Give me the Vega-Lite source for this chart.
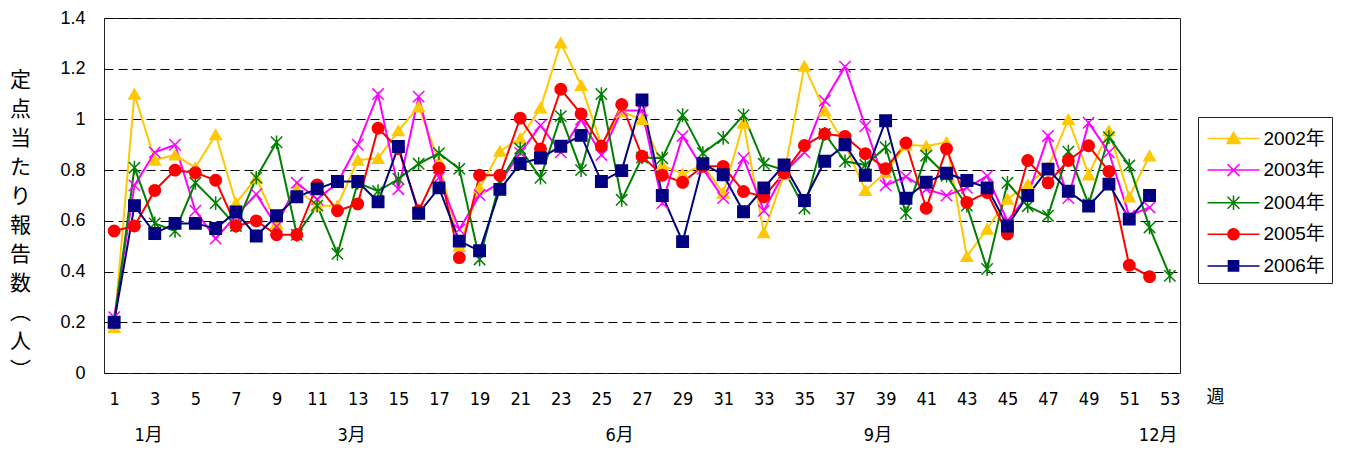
{
  "$schema": "https://vega.github.io/schema/vega-lite/v6.json",
  "width": 1076,
  "height": 355,
  "autosize": {"type": "none"},
  "padding": {"left": 104, "top": 18, "right": 167, "bottom": 83},
  "background": "white",
  "config": {
    "view": {"stroke": "#222", "strokeWidth": 1},
    "font": "Liberation Sans"
  },
  "data": {
    "values": [
      {"week": 1, "2002年": 0.18, "2003年": 0.22, "2004年": 0.2, "2005年": 0.56, "2006年": 0.2},
      {"week": 2, "2002年": 1.1, "2003年": 0.74, "2004年": 0.81, "2005年": 0.58, "2006年": 0.66},
      {"week": 3, "2002年": 0.84, "2003年": 0.87, "2004年": 0.59, "2005年": 0.72, "2006年": 0.55},
      {"week": 4, "2002年": 0.86, "2003年": 0.9, "2004年": 0.56, "2005年": 0.8, "2006年": 0.59},
      {"week": 5, "2002年": 0.81, "2003年": 0.64, "2004年": 0.75, "2005年": 0.79, "2006年": 0.59},
      {"week": 6, "2002年": 0.94, "2003年": 0.53, "2004年": 0.67, "2005年": 0.76, "2006年": 0.57},
      {"week": 7, "2002年": 0.67, "2003年": 0.62, "2004年": 0.58, "2005年": 0.58, "2006年": 0.635},
      {"week": 8, "2002年": 0.77, "2003年": 0.705, "2004年": 0.77, "2005年": 0.6, "2006年": 0.54},
      {"week": 9, "2002年": 0.59, "2003年": 0.578, "2004年": 0.91, "2005年": 0.545, "2006年": 0.62},
      {"week": 10, "2002年": 0.726, "2003年": 0.75, "2004年": 0.545, "2005年": 0.545, "2006年": 0.695},
      {"week": 11, "2002年": 0.66, "2003年": 0.685, "2004年": 0.66, "2005年": 0.742, "2006年": 0.726},
      {"week": 12, "2002年": 0.66, "2003年": 0.75, "2004年": 0.47, "2005年": 0.64, "2006年": 0.755},
      {"week": 13, "2002年": 0.84, "2003年": 0.9, "2004年": 0.75, "2005年": 0.667, "2006年": 0.755},
      {"week": 14, "2002年": 0.847, "2003年": 1.1, "2004年": 0.717, "2005年": 0.965, "2006年": 0.675},
      {"week": 15, "2002年": 0.956, "2003年": 0.725, "2004年": 0.765, "2005年": 0.885, "2006年": 0.893},
      {"week": 16, "2002年": 1.05, "2003年": 1.09, "2004年": 0.825, "2005年": 0.64, "2006年": 0.63},
      {"week": 17, "2002年": 0.834, "2003年": 0.77, "2004年": 0.867, "2005年": 0.808, "2006年": 0.73},
      {"week": 18, "2002年": 0.5, "2003年": 0.566, "2004年": 0.805, "2005年": 0.455, "2006年": 0.52},
      {"week": 19, "2002年": 0.73, "2003年": 0.702, "2004年": 0.448, "2005年": 0.78, "2006年": 0.482},
      {"week": 20, "2002年": 0.875, "2003年": 0.75, "2004年": 0.755, "2005年": 0.78, "2006年": 0.724},
      {"week": 21, "2002年": 0.925, "2003年": 0.868, "2004年": 0.885, "2005年": 1.005, "2006年": 0.826},
      {"week": 22, "2002年": 1.046, "2003年": 0.976, "2004年": 0.77, "2005年": 0.884, "2006年": 0.848},
      {"week": 23, "2002年": 1.302, "2003年": 0.87, "2004年": 1.013, "2005年": 1.119, "2006年": 0.894},
      {"week": 24, "2002年": 1.135, "2003年": 1.0, "2004年": 0.8, "2005年": 1.022, "2006年": 0.937},
      {"week": 25, "2002年": 0.9, "2003年": 0.86, "2004年": 1.1, "2005年": 0.894, "2006年": 0.755},
      {"week": 26, "2002年": 1.03, "2003年": 1.035, "2004年": 0.683, "2005年": 1.059, "2006年": 0.798},
      {"week": 27, "2002年": 1.0, "2003年": 1.035, "2004年": 0.85, "2005年": 0.855, "2006年": 1.077},
      {"week": 28, "2002年": 0.82, "2003年": 0.67, "2004年": 0.847, "2005年": 0.78, "2006年": 0.7},
      {"week": 29, "2002年": 0.785, "2003年": 0.935, "2004年": 1.017, "2005年": 0.752, "2006年": 0.518},
      {"week": 30, "2002年": 0.82, "2003年": 0.805, "2004年": 0.867, "2005年": 0.815, "2006年": 0.825},
      {"week": 31, "2002年": 0.71, "2003年": 0.69, "2004年": 0.927, "2005年": 0.815, "2006年": 0.782},
      {"week": 32, "2002年": 0.986, "2003年": 0.847, "2004年": 1.017, "2005年": 0.716, "2006年": 0.636},
      {"week": 33, "2002年": 0.554, "2003年": 0.64, "2004年": 0.825, "2005年": 0.695, "2006年": 0.73},
      {"week": 34, "2002年": 0.785, "2003年": 0.79, "2004年": 0.8, "2005年": 0.789, "2006年": 0.82},
      {"week": 35, "2002年": 1.21, "2003年": 0.87, "2004年": 0.65, "2005年": 0.897, "2006年": 0.68},
      {"week": 36, "2002年": 1.034, "2003年": 1.074, "2004年": 0.943, "2005年": 0.943, "2006年": 0.835},
      {"week": 37, "2002年": 0.9, "2003年": 1.208, "2004年": 0.835, "2005年": 0.933, "2006年": 0.9},
      {"week": 38, "2002年": 0.72, "2003年": 0.973, "2004年": 0.82, "2005年": 0.865, "2006年": 0.78},
      {"week": 39, "2002年": 0.79, "2003年": 0.74, "2004年": 0.89, "2005年": 0.806, "2006年": 0.995},
      {"week": 40, "2002年": 0.9, "2003年": 0.774, "2004年": 0.63, "2005年": 0.907, "2006年": 0.689},
      {"week": 41, "2002年": 0.895, "2003年": 0.725, "2004年": 0.857, "2005年": 0.65, "2006年": 0.752},
      {"week": 42, "2002年": 0.91, "2003年": 0.7, "2004年": 0.778, "2005年": 0.884, "2006年": 0.788},
      {"week": 43, "2002年": 0.46, "2003年": 0.73, "2004年": 0.66, "2005年": 0.673, "2006年": 0.759},
      {"week": 44, "2002年": 0.568, "2003年": 0.777, "2004年": 0.41, "2005年": 0.712, "2006年": 0.73},
      {"week": 45, "2002年": 0.686, "2003年": 0.6, "2004年": 0.75, "2005年": 0.548, "2006年": 0.58},
      {"week": 46, "2002年": 0.743, "2003年": 0.7, "2004年": 0.658, "2005年": 0.838, "2006年": 0.7},
      {"week": 47, "2002年": 0.81, "2003年": 0.935, "2004年": 0.62, "2005年": 0.75, "2006年": 0.804},
      {"week": 48, "2002年": 1.0, "2003年": 0.69, "2004年": 0.873, "2005年": 0.838, "2006年": 0.717},
      {"week": 49, "2002年": 0.782, "2003年": 0.987, "2004年": 0.665, "2005年": 0.896, "2006年": 0.658},
      {"week": 50, "2002年": 0.956, "2003年": 0.87, "2004年": 0.93, "2005年": 0.795, "2006年": 0.745},
      {"week": 51, "2002年": 0.695, "2003年": 0.62, "2004年": 0.818, "2005年": 0.425, "2006年": 0.607},
      {"week": 52, "2002年": 0.857, "2003年": 0.653, "2004年": 0.574, "2005年": 0.38, "2006年": 0.7},
      {"week": 53, "2002年": null, "2003年": null, "2004年": 0.383, "2005年": null, "2006年": null}
    ]
  },
  "transform": [
    {"fold": ["2002年", "2003年", "2004年", "2005年", "2006年"], "as": ["year", "value"]}
  ],
  "layer": [
    {
      "mark": {"type": "line", "strokeWidth": 2},
      "encoding": {
        "x": {
          "field": "week",
          "type": "quantitative",
          "scale": {"domain": [0.5, 53.5], "nice": false, "zero": false},
          "axis": {
            "orient": "bottom",
            "values": [2.67, 12.67, 25.87, 38.6, 52.4],
            "labelExpr": "datum.value < 5 ? '1月' : datum.value < 20 ? '3月' : datum.value < 30 ? '6月' : datum.value < 45 ? '9月' : '12月'",
            "labelFont": "Liberation Sans Narrow, DejaVu Sans Condensed, Noto Sans CJK JP",
            "labelFontSize": 18,
            "labelColor": "#000",
            "labelPadding": 53,
            "labelBaseline": "top",
            "labelFlush": false,
            "labelOverlap": false,
            "ticks": false,
            "domain": false,
            "grid": false,
            "title": null
          }
        },
        "y": {"field": "value", "type": "quantitative"},
        "stroke": {
          "field": "year",
          "type": "nominal",
          "scale": {
            "domain": ["2002年", "2003年", "2004年", "2005年", "2006年"],
            "range": ["#FFC800", "#FF00FF", "#008000", "#FF0000", "#000080"]
          }
        }
      }
    },
    {
      "mark": {"type": "point", "filled": true, "strokeWidth": 1.5, "opacity": 1},
      "encoding": {
        "x": {
          "field": "week",
          "type": "quantitative",
          "scale": {"domain": [0.5, 53.5], "nice": false, "zero": false},
          "axis": {
            "orient": "bottom",
            "values": [1, 3, 5, 7, 9, 11, 13, 15, 17, 19, 21, 23, 25, 27, 29, 31, 33, 35, 37, 39, 41, 43, 45, 47, 49, 51, 53],
            "labelFont": "Liberation Sans Narrow, DejaVu Sans Condensed, sans-serif",
            "labelFontSize": 18,
            "labelColor": "#000",
            "labelPadding": 17,
            "labelBaseline": "top",
            "labelFlush": false,
            "labelOverlap": false,
            "ticks": false,
            "domain": false,
            "grid": false,
            "title": "週",
            "titleFont": "Noto Sans CJK JP",
            "titleFontSize": 18,
            "titleFontWeight": "normal",
            "titleColor": "#000",
            "titleAngle": 0,
            "titleX": 1111,
            "titleY": 24,
            "titleAlign": "center",
            "titleBaseline": "middle"
          }
        },
        "y": {
          "field": "value",
          "type": "quantitative",
          "scale": {"domain": [0, 1.4], "nice": false, "zero": true},
          "axis": {
            "values": [0, 0.2, 0.4, 0.6, 0.8, 1.0, 1.2, 1.4],
            "format": ".1~f",
            "labelFont": "Liberation Sans",
            "labelFontSize": 18,
            "labelColor": "#000",
            "labelPadding": 19,
            "ticks": false,
            "domain": false,
            "grid": true,
            "gridColor": "#000",
            "gridDash": [9, 5],
            "gridWidth": 1,
            "title": ["定", "点", "当", "た", "り", "報", "告", "数", "︵", "人", "︶"],
            "titleFont": "Noto Sans CJK JP",
            "titleFontSize": 21,
            "titleFontWeight": "normal",
            "titleColor": "#000",
            "titleAngle": 0,
            "titleX": -84,
            "titleY": 51,
            "titleAlign": "center",
            "titleBaseline": "top",
            "titleLineHeight": 29
          }
        },
        "fill": {
          "field": "year",
          "type": "nominal",
          "scale": {
            "domain": ["2002年", "2003年", "2004年", "2005年", "2006年"],
            "range": ["#FFC800", "#FF00FF", "#008000", "#FF0000", "#000080"]
          },
          "legend": {
            "orient": "none",
            "legendX": 1094,
            "legendY": 99,
            "title": " ",
            "titleFontSize": 5,
            "titlePadding": 0,
            "strokeColor": "#222",
            "fillColor": "white",
            "padding": 7,
            "symbolSize": 144,
            "symbolStrokeWidth": 1.5,
            "symbolOffset": 19,
            "labelOffset": 20.5,
            "labelFontSize": 19,
            "labelFont": "Liberation Sans, Noto Sans CJK JP",
            "labelColor": "#000",
            "rowPadding": 11.6,
            "symbolType": {
              "expr": "datum.value === '2002年' ? 'M-4.33,0H4.33M0,-1.05L1.1,0.85L-1.1,0.85Z' : datum.value === '2003年' ? 'M-4.33,0H4.33M-1,-1L1,1M-1,1L1,-1' : datum.value === '2004年' ? 'M-4.33,0H4.33M-1,-1L1,1M-1,1L1,-1M0,-1.2V1.2' : datum.value === '2005年' ? 'M-4.33,0H4.33M0.92,0A0.92,0.92,0,1,1,-0.92,0A0.92,0.92,0,1,1,0.92,0Z' : 'M-4.33,0H4.33M-0.85,-0.85H0.85V0.85H-0.85Z'"
            }
          }
        },
        "stroke": {
          "field": "year",
          "type": "nominal",
          "scale": {
            "domain": ["2002年", "2003年", "2004年", "2005年", "2006年"],
            "range": ["#FFC800", "#FF00FF", "#008000", "#FF0000", "#000080"]
          }
        },
        "shape": {
          "field": "year",
          "type": "nominal",
          "scale": {
            "domain": ["2002年", "2003年", "2004年", "2005年", "2006年", "-"],
            "range": ["triangle-up", "M-1,-1L1,1M-1,1L1,-1", "M-1,-1L1,1M-1,1L1,-1M0,-1.2V1.2", "circle", "square", "diamond"]
          },
          "legend": null
        },
        "size": {
          "field": "year",
          "type": "nominal",
          "scale": {
            "domain": ["2002年", "2003年", "2004年", "2005年", "2006年", "-"],
            "range": [130, 130, 130, 100, 90, 100]
          },
          "legend": null
        }
      }
    }
  ],
  "resolve": {"axis": {"x": "independent"}}
}
